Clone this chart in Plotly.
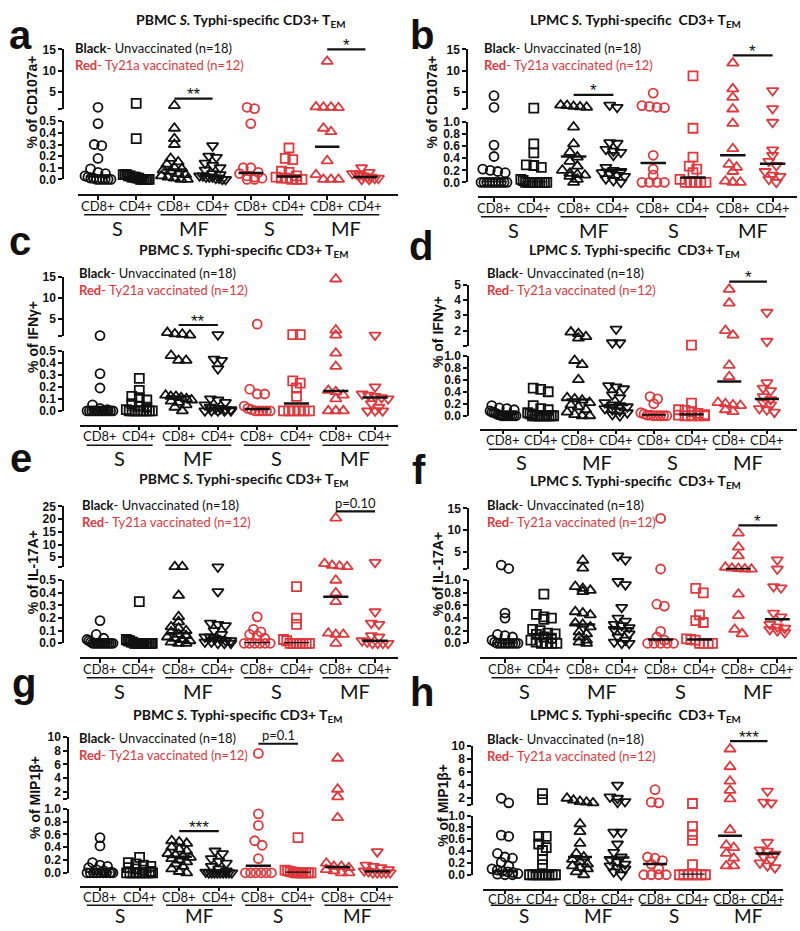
import plotly.graph_objects as go

W, H = 800, 931
BLACK = "#111111"
RED = "#e0383c"
LABEL_FONT = "Lato"
NUM_FONT = "Liberation Sans"

# categories
CELLS = ["CD8+", "CD4+", "CD8+", "CD4+", "CD8+", "CD4+", "CD8+", "CD4+"]
STIM = ["S", "MF", "S", "MF"]
SYMBOLS = ["circle-open", "square-open", "triangle-up-open", "triangle-down-open"] * 2
SIZES = [9, 9, 10, 10] * 2
COLORS = [BLACK] * 4 + [RED] * 4

# values, one list per group (black n=18, red n=12)
PBMC_CD107A = [
    [1.5, 0.48, 0.30, 0.29, 0.18, 0.09, 0.06, 0.05, 0.03, 0.02, 0.01, 0.01, 0, 0, 0, 0, 0, 0],
    [2.4, 0.35, 0.04, 0.04, 0.04, 0.03, 0.03, 0.02, 0.02, 0.02, 0.01, 0.01, 0, 0, 0, 0, 0, 0],
    [1.9, 0.44, 0.35, 0.30, 0.18, 0.15, 0.13, 0.10, 0.09, 0.08, 0.07, 0.05, 0.04, 0.03, 0.02, 0.01, 0, 0],
    [0.29, 0.20, 0.19, 0.14, 0.12, 0.10, 0.08, 0.05, 0.04, 0.03, 0.03, 0.02, 0.02, 0.02, 0.01, 0.01, 0, 0],
    [1.5, 1.2, 0.48, 0.10, 0.10, 0.06, 0.05, 0.03, 0.02, 0.01, 0, 0],
    [0.27, 0.18, 0.17, 0.07, 0.06, 0.03, 0.02, 0.01, 0.01, 0, 0, 0],
    [12.2, 1.6, 1.5, 1.5, 1.4, 0.44, 0.41, 0.16, 0.04, 0, 0, 0],
    [0.10, 0.06, 0.05, 0.05, 0.04, 0.03, 0.02, 0.02, 0.01, 0.01, 0, 0],
]
LPMC_CD107A = [
    [4.2, 1.5, 0.62, 0.43, 0.22, 0.20, 0.18, 0.16, 0, 0, 0, 0, 0, 0, 0, 0, 0, 0],
    [1.3, 0.64, 0.49, 0.29, 0.28, 0.25, 0.05, 0.03, 0, 0, 0, 0, 0, 0, 0, 0, 0, 0],
    [2.0, 1.9, 1.7, 1.6, 1.5, 0.92, 0.64, 0.50, 0.42, 0.35, 0.27, 0.20, 0.15, 0.13, 0.12, 0.10, 0.05, 0],
    [2.0, 1.5, 0.66, 0.65, 0.55, 0.52, 0.50, 0.45, 0.25, 0.20, 0.18, 0.16, 0.14, 0.12, 0.10, 0.06, 0.03, 0],
    [4.8, 1.9, 1.7, 1.5, 1.4, 0.45, 0.22, 0.12, 0, 0, 0, 0],
    [8.8, 0.90, 0.42, 0.27, 0.22, 0.16, 0.05, 0, 0, 0, 0, 0],
    [11.8, 5.8, 3.8, 1.1, 0.98, 0.56, 0.30, 0.25, 0.18, 0.02, 0, 0],
    [5.4, 1.2, 1.0, 0.54, 0.45, 0.35, 0.28, 0.18, 0.12, 0.10, 0.05, 0],
]
PBMC_IFNG = [
    [1.1, 0.31, 0.19, 0.05, 0.02, 0.01, 0, 0, 0, 0, 0, 0, 0, 0, 0, 0, 0, 0],
    [0.27, 0.17, 0.12, 0.11, 0.09, 0.06, 0.04, 0.03, 0.01, 0, 0, 0, 0, 0, 0, 0, 0, 0],
    [1.8, 1.5, 1.4, 1.2, 0.46, 0.42, 0.42, 0.13, 0.12, 0.12, 0.11, 0.10, 0.09, 0.08, 0.07, 0.05, 0.03, 0],
    [1.3, 0.43, 0.42, 0.35, 0.10, 0.09, 0.07, 0.05, 0.03, 0.02, 0.02, 0.01, 0.01, 0, 0, 0, 0, 0],
    [3.8, 0.18, 0.14, 0.14, 0.04, 0.02, 0.01, 0, 0, 0, 0, 0],
    [1.3, 1.3, 0.25, 0.23, 0.19, 0.12, 0, 0, 0, 0, 0, 0],
    [14.5, 2.4, 1.2, 0.48, 0.37, 0.17, 0.16, 0.13, 0.10, 0, 0, 0],
    [1.2, 0.20, 0.14, 0.13, 0.12, 0.11, 0.10, 0.06, 0.03, 0, 0, 0],
]
LPMC_IFNG = [
    [0.17, 0.13, 0.12, 0.10, 0.08, 0.06, 0.05, 0.04, 0.02, 0.01, 0, 0, 0, 0, 0, 0, 0, 0],
    [0.46, 0.44, 0.40, 0.17, 0.12, 0.10, 0.05, 0.03, 0, 0, 0, 0, 0, 0, 0, 0, 0, 0],
    [1.9, 1.8, 1.6, 1.5, 0.92, 0.85, 0.60, 0.30, 0.28, 0.26, 0.22, 0.18, 0.15, 0.10, 0.06, 0.02, 0, 0],
    [2.1, 1.2, 1.2, 0.50, 0.48, 0.45, 0.35, 0.30, 0.22, 0.18, 0.17, 0.15, 0.12, 0.10, 0.08, 0.05, 0.02, 0],
    [0.32, 0.28, 0.20, 0.05, 0.03, 0.01, 0.01, 0, 0, 0, 0, 0],
    [1.05, 0.21, 0.10, 0.09, 0.07, 0.04, 0.02, 0.01, 0, 0, 0, 0],
    [4.7, 3.8, 2.0, 1.7, 0.84, 0.65, 0.22, 0.20, 0.18, 0.17, 0.10, 0.07],
    [3.2, 1.3, 0.55, 0.46, 0.42, 0.32, 0.27, 0.22, 0.18, 0.12, 0.10, 0.06],
]
PBMC_IL17A = [
    [0.18, 0.07, 0.04, 0.03, 0.02, 0.01, 0, 0, 0, 0, 0, 0, 0, 0, 0, 0, 0, 0],
    [0.33, 0.03, 0.02, 0.02, 0.01, 0.01, 0, 0, 0, 0, 0, 0, 0, 0, 0, 0, 0, 0],
    [1.3, 1.3, 0.38, 0.21, 0.17, 0.13, 0.12, 0.10, 0.09, 0.07, 0.06, 0.05, 0.04, 0.03, 0.02, 0.01, 0, 0],
    [1.2, 0.41, 0.16, 0.15, 0.14, 0.10, 0.07, 0.05, 0.05, 0.04, 0.03, 0.02, 0.02, 0.01, 0.01, 0, 0, 0],
    [0.21, 0.11, 0.09, 0.07, 0.06, 0.04, 0, 0, 0, 0, 0, 0],
    [0.45, 0.20, 0.15, 0.03, 0.02, 0, 0, 0, 0, 0, 0, 0],
    [20.4, 2.5, 1.8, 1.5, 1.3, 0.50, 0.40, 0.33, 0.08, 0.07, 0.07, 0],
    [3.0, 0.25, 0.16, 0.15, 0.06, 0.05, 0.02, 0.01, 0, 0, 0, 0],
]
LPMC_IL17A = [
    [2.0, 1.2, 0.48, 0.40, 0.14, 0.12, 0.10, 0.05, 0.02, 0, 0, 0, 0, 0, 0, 0, 0, 0],
    [0.78, 0.46, 0.42, 0.40, 0.38, 0.22, 0.20, 0.16, 0.15, 0.14, 0.10, 0.08, 0.05, 0.02, 0, 0, 0, 0],
    [3.1, 1.3, 0.90, 0.87, 0.84, 0.82, 0.50, 0.48, 0.45, 0.32, 0.30, 0.26, 0.18, 0.15, 0.10, 0.05, 0.02, 0],
    [4.1, 3.2, 0.98, 0.93, 0.57, 0.40, 0.35, 0.30, 0.28, 0.25, 0.22, 0.20, 0.15, 0.10, 0.05, 0.02, 0, 0],
    [12.7, 1.1, 0.62, 0.59, 0.19, 0.10, 0.05, 0, 0, 0, 0, 0],
    [0.87, 0.80, 0.45, 0.36, 0.33, 0.07, 0.06, 0.05, 0, 0, 0, 0],
    [9.3, 6.1, 4.1, 1.5, 1.3, 1.2, 1.1, 1.05, 0.78, 0.44, 0.22, 0.15],
    [3.2, 1.1, 0.90, 0.88, 0.48, 0.42, 0.30, 0.26, 0.24, 0.22, 0.20, 0.17],
]
PBMC_MIP1B = [
    [0.55, 0.42, 0.16, 0.12, 0.10, 0.08, 0.05, 0.03, 0.01, 0, 0, 0, 0, 0, 0, 0, 0, 0],
    [0.24, 0.16, 0.14, 0.12, 0.10, 0.08, 0.06, 0.04, 0.02, 0, 0, 0, 0, 0, 0, 0, 0, 0],
    [0.50, 0.48, 0.46, 0.40, 0.37, 0.34, 0.30, 0.28, 0.26, 0.24, 0.22, 0.20, 0.17, 0.14, 0.10, 0.06, 0.02, 0],
    [0.34, 0.30, 0.22, 0.18, 0.15, 0.10, 0.06, 0.03, 0.01, 0, 0, 0, 0, 0, 0, 0, 0, 0],
    [7.6, 0.92, 0.74, 0.50, 0.43, 0.22, 0, 0, 0, 0, 0, 0],
    [0.55, 0.04, 0.03, 0.02, 0.01, 0, 0, 0, 0, 0, 0, 0],
    [6.9, 2.4, 1.3, 0.86, 0.15, 0.10, 0.10, 0.08, 0.05, 0.03, 0, 0],
    [0.33, 0.12, 0.10, 0.08, 0.05, 0.03, 0.02, 0, 0, 0, 0, 0],
]
LPMC_MIP1B = [
    [2.0, 1.3, 0.67, 0.65, 0.36, 0.30, 0.28, 0.21, 0.15, 0.10, 0.08, 0.06, 0.05, 0.04, 0.02, 0.01, 0, 0],
    [2.7, 1.8, 0.65, 0.65, 0.52, 0.46, 0.41, 0.26, 0.17, 0, 0, 0, 0, 0, 0, 0, 0, 0],
    [2.0, 1.7, 1.5, 1.4, 1.3, 0.86, 0.73, 0.53, 0.36, 0.30, 0.26, 0.22, 0.18, 0.15, 0.12, 0.10, 0.05, 0],
    [4.0, 2.2, 2.0, 1.5, 1.4, 0.72, 0.72, 0.52, 0.38, 0.30, 0.26, 0.22, 0.18, 0.15, 0.12, 0.10, 0.05, 0],
    [3.3, 1.4, 1.3, 0.30, 0.28, 0.24, 0.18, 0.10, 0, 0, 0, 0],
    [1.2, 0.82, 0.68, 0.58, 0.17, 0, 0, 0, 0, 0, 0, 0],
    [9.5, 6.8, 4.6, 3.2, 1.9, 0.76, 0.50, 0.46, 0.36, 0.28, 0.15, 0.15],
    [3.1, 1.4, 1.3, 0.55, 0.42, 0.40, 0.35, 0.30, 0.25, 0.20, 0.15, 0.12],
]

# medians drawn as bars
MED_A = [0.025, 0.02, 0.085, 0.03, 0.055, 0.025, 0.28, 0.02]
MED_B = [0.0, 0.0, 0.43, 0.21, 0.32, 0.08, 0.45, 0.31]
MED_C = [0.0, 0.0, 0.12, 0.02, 0.015, 0.06, 0.165, 0.11]
MED_D = [0.0, 0.0, 0.27, 0.18, 0.01, 0.02, 0.57, 0.28]
MED_E = [0.0, 0.0, 0.08, 0.04, 0.0, 0.0, 0.37, 0.02]
MED_F = [0.0, 0.14, 0.30, 0.24, 0.06, 0.06, 1.1, 0.38]
MED_G = [0.0, 0.0, 0.25, 0.0, 0.11, 0.0, 0.09, 0.02]
MED_H = [0.06, 0.05, 0.30, 0.29, 0.18, 0.0, 0.66, 0.36]

# significance bars: (group i, group j, height, label)
SIG_A = [(2, 3, 3.5, "**"), (6, 7, 15, "*")]
SIG_B = [(2, 3, 4.4, "*"), (6, 7, 13.6, "*")]
SIG_C = [(2, 3, 3.6, "**")]
SIG_D = [(6, 7, 5.2, "*")]
SIG_E = [(6, 7, 23, "p=0.10")]
SIG_F = [(6, 7, 11.1, "*")]
SIG_G = [(2, 3, 0.65, "***"), (4, 5, 9.0, "p=0.1")]
SIG_H = [(6, 7, 10.7, "***")]

T_PBMC = "PBMC <i>S.</i> Typhi-specific CD3+ T<sub>EM</sub>"
T_LPMC = "LPMC <i>S.</i> Typhi-specific  CD3+ T<sub>EM</sub>"
LEGEND = ("<b>Black</b>- Unvaccinated (n=18)<br>"
          f"<span style='color:{RED}'><b>Red</b>- Ty21a vaccinated (n=12)</span>")

# panel placement (pixels)
PANELS = [
    dict(letter="a", lx=7, ly=28, title=T_PBMC, tx=240, ty=14, ytitle="% of CD107a+", yx=32, yy=97,
         legx=73, legy=50, ox=63, xl0=78, xl1=398, c0=98, dc=38.2, xline=191,
         top=43, one=104, lmaxpx=116, zero=175, lmax=0.5, utop=15, uticks=[5, 10, 15],
         data=PBMC_CD107A, med=MED_A, sig=SIG_A),
    dict(letter="b", lx=408, ly=28, title=T_LPMC, tx=635, ty=14, ytitle="% of CD107a+", yx=432, yy=97,
         legx=482, legy=50, ox=467, xl0=478, xl1=797, c0=494, dc=39.8, xline=193,
         top=43, one=104, lmaxpx=117, zero=178, lmax=1.0, utop=15, uticks=[5, 10, 15],
         data=LPMC_CD107A, med=MED_B, sig=SIG_B),
    dict(letter="c", lx=7, ly=238, title=T_PBMC, tx=243, ty=247, ytitle="% of IFNγ+", yx=33, yy=335,
         legx=77, legy=279, ox=63, xl0=80, xl1=398, c0=100, dc=39.3, xline=425,
         top=274, one=334, lmaxpx=349, zero=410, lmax=0.5, utop=15, uticks=[5, 10, 15],
         data=PBMC_IFNG, med=MED_C, sig=SIG_C),
    dict(letter="d", lx=407, ly=243, title=T_LPMC, tx=634, ty=247, ytitle="% of IFNγ+", yx=438, yy=330,
         legx=485, legy=279, ox=468, xl0=480, xl1=797, c0=503, dc=37.7, xline=429,
         top=282, one=344, lmaxpx=354, zero=415, lmax=1.0, utop=5, uticks=[2, 3, 4, 5],
         data=LPMC_IFNG, med=MED_D, sig=SIG_D),
    dict(letter="e", lx=8, ly=458, title=T_PBMC, tx=243, ty=480, ytitle="% of IL-17A+", yx=33, yy=574,
         legx=80, legy=514, ox=63, xl0=80, xl1=398, c0=100, dc=39.3, xline=661,
         top=507, one=569, lmaxpx=582, zero=646, lmax=0.5, utop=25, uticks=[5, 10, 15, 20, 25],
         data=PBMC_IL17A, med=MED_E, sig=SIG_E),
    dict(letter="f", lx=410, ly=470, title=T_LPMC, tx=635, ty=482, ytitle="% of IL-17A+", yx=438, yy=576,
         legx=485, legy=514, ox=468, xl0=480, xl1=797, c0=505, dc=38.9, xline=661,
         top=509, one=571, lmaxpx=582, zero=646, lmax=1.0, utop=15, uticks=[5, 10, 15],
         data=LPMC_IL17A, med=MED_F, sig=SIG_F),
    dict(letter="g", lx=10, ly=686, title=T_PBMC, tx=237, ty=719, ytitle="% of MIP1β+", yx=35, yy=803,
         legx=77, legy=751, ox=68, xl0=80, xl1=398, c0=100, dc=39.6, xline=893,
         top=741, one=804, lmaxpx=814, zero=879, lmax=1.0, utop=10, uticks=[2, 4, 6, 8, 10],
         data=PBMC_MIP1B, med=MED_G, sig=SIG_G, uline=19, glab=922, gsize=19),
    dict(letter="h", lx=408, ly=695, title=T_LPMC, tx=635, ty=719, ytitle="% of MIP1β+", yx=443, yy=811,
         legx=485, legy=752, ox=472, xl0=483, xl1=783, c0=505, dc=37.5, xline=896,
         top=750, one=810, lmaxpx=821, zero=881, lmax=1.0, utop=10, uticks=[2, 4, 6, 8, 10],
         data=LPMC_MIP1B, med=MED_H, sig=SIG_H, uline=16, glab=922, gsize=19, clab=10),
]


def px_x(p):
    return p / W


def px_y(p):
    return 1 - p / H


def val_px(s, v):
    # pixel row of a value on the broken axis
    if v <= s["lmax"]:
        return s["zero"] - v / s["lmax"] * (s["zero"] - s["lmaxpx"])
    v = max(v, 1)
    return s["one"] - (v - 1) / (s["utop"] - 1) * (s["one"] - s["top"])


def spread(pxs):
    # prism-like horizontal scatter of points sharing a row
    order = sorted(range(len(pxs)), key=lambda i: pxs[i])
    offs = [0.0] * len(pxs)
    rows = []
    for i in order:
        if rows and abs(pxs[i] - pxs[rows[-1][0]]) < 5:
            rows[-1].append(i)
        else:
            rows.append([i])
    for r in rows:
        k = len(r)
        step = min(7.5, 26.0 / (k - 1)) if k > 1 else 0
        for n, i in enumerate(r):
            offs[i] = (n - (k - 1) / 2) * step
    return offs


def key(a, n):
    return f"{a}axis" if n == 1 else f"{a}axis{n}"


def ref(a, n):
    return a if n == 1 else f"{a}{n}"


def note(x, y, text, size, family=LABEL_FONT, color=BLACK, xanchor="center", angle=0):
    return dict(x=px_x(x), y=px_y(y), xref="paper", yref="paper", text=text, showarrow=False,
                xanchor=xanchor, yanchor="middle", textangle=angle, align="left",
                font=dict(family=family, size=size, color=color))


fig = go.Figure()
layout = {}
shapes = []
annotations = []

for p, s in enumerate(PANELS):
    nl, nu = 2 * p + 1, 2 * p + 2
    xdom = [px_x(s["xl0"]), px_x(s["xl1"])]
    xrng = [(s["xl0"] - s["c0"]) / s["dc"], (s["xl1"] - s["c0"]) / s["dc"]]
    axis_common = dict(showgrid=False, zeroline=False, fixedrange=True, showline=True,
                       linecolor=BLACK, linewidth=1.5, ticks="outside", ticklen=4,
                       tickwidth=1.5, tickcolor=BLACK)
    layout[key("x", nl)] = dict(domain=xdom, range=xrng, anchor="free", position=px_y(s["xline"]),
                                tickvals=list(range(8)), showticklabels=False, **axis_common)
    lt = [round(i * (0.1 if s["lmax"] == 0.5 else 0.2), 1) for i in range(6)]
    layout[key("y", nl)] = dict(domain=[px_y(s["zero"]), px_y(s["lmaxpx"])], range=[0, s["lmax"]],
                                anchor="free", position=px_x(s["ox"]),
                                tickvals=lt, ticktext=[f"<b>{t:.1f}</b>" for t in lt],
                                tickfont=dict(family=NUM_FONT, size=12, color=BLACK), **axis_common)
    layout[key("x", nu)] = dict(domain=xdom, range=xrng, visible=False, anchor=ref("y", nu),
                                fixedrange=True)
    layout[key("y", nu)] = dict(domain=[px_y(s["one"]), px_y(s["top"])], range=[1, s["utop"]],
                                anchor="free", position=px_x(s["ox"]),
                                tickvals=s["uticks"], ticktext=[f"<b>{t}</b>" for t in s["uticks"]],
                                minor=dict(tickmode="array", tickvals=[1], ticks="outside", ticklen=4,
                                           tickwidth=1.5, tickcolor=BLACK, showgrid=False),
                                tickfont=dict(family=NUM_FONT, size=12, color=BLACK), **axis_common)

    for g in range(8):
        vals = s["data"][g]
        offs = spread([val_px(s, v) for v in vals])
        xs = [g + o / s["dc"] for o in offs]
        for part, n in (("lo", nl), ("hi", nu)):
            sel = [i for i, v in enumerate(vals) if (v <= s["lmax"]) == (part == "lo")]
            if not sel:
                continue
            fig.add_trace(go.Scatter(
                x=[xs[i] for i in sel], y=[vals[i] for i in sel], mode="markers",
                xaxis=ref("x", n), yaxis=ref("y", n), cliponaxis=False, hoverinfo="y",
                marker=dict(symbol=SYMBOLS[g], size=SIZES[g], color=COLORS[g],
                            line=dict(color=COLORS[g], width=1.8)),
                showlegend=False))
        m = s["med"][g]
        n = nl if m <= s["lmax"] else nu
        fig.add_trace(go.Scatter(
            x=[g - 0.32, g + 0.32], y=[m, m], mode="lines", xaxis=ref("x", n), yaxis=ref("y", n),
            line=dict(color=BLACK, width=2.5), hoverinfo="skip", showlegend=False))
        # cell-type label under each column
        annotations.append(note(s["c0"] + s["dc"] * g, s["xline"] + s.get("clab", 11), CELLS[g], 13))

    # group underlines and stimulus labels
    for k in range(4):
        cx = s["c0"] + s["dc"] * (2 * k + 0.5)
        uy = s["xline"] + s.get("uline", 20)
        shapes.append(dict(type="line", xref="paper", yref="paper",
                           x0=px_x(cx - 33), x1=px_x(cx + 33), y0=px_y(uy), y1=px_y(uy),
                           line=dict(color=BLACK, width=1.5)))
        annotations.append(note(cx, s.get("glab", s["xline"] + 33), STIM[k], s.get("gsize", 20)))

    # significance
    for i, j, v, lab in s["sig"]:
        if v <= s["lmax"]:
            yp = val_px(s, v)
        else:
            yp = s["one"] - (v - 1) / (s["utop"] - 1) * (s["one"] - s["top"])
        shapes.append(dict(type="line", xref="paper", yref="paper",
                           x0=px_x(s["c0"] + s["dc"] * i), x1=px_x(s["c0"] + s["dc"] * j),
                           y0=px_y(yp), y1=px_y(yp), line=dict(color=BLACK, width=2.2)))
        star = lab.startswith("*")
        annotations.append(note(s["c0"] + s["dc"] * (i + j) / 2, yp - (4 if star else 9), lab,
                                17 if star else 13, family=NUM_FONT if star else LABEL_FONT))

    # texts
    annotations.append(note(s["lx"], s["ly"], f"<b>{s['letter']}</b>", 40, family=NUM_FONT,
                            xanchor="left"))
    annotations.append(note(s["tx"], s["ty"], f"<b>{s['title']}</b>", 14))
    annotations.append(note(s["yx"], s["yy"], f"<b>{s['ytitle']}</b>", 14, family=NUM_FONT,
                            angle=-90))
    annotations.append(note(s["legx"], s["legy"], LEGEND, 13, xanchor="left"))

fig.update_layout(
    width=W, height=H, margin=dict(l=0, r=0, t=0, b=0),
    plot_bgcolor="white", paper_bgcolor="white", showlegend=False,
    shapes=shapes, annotations=annotations, **layout,
)

fig.write_html("out.html", config={"displayModeBar": False},
               post_script="document.body.style.margin='0';")
